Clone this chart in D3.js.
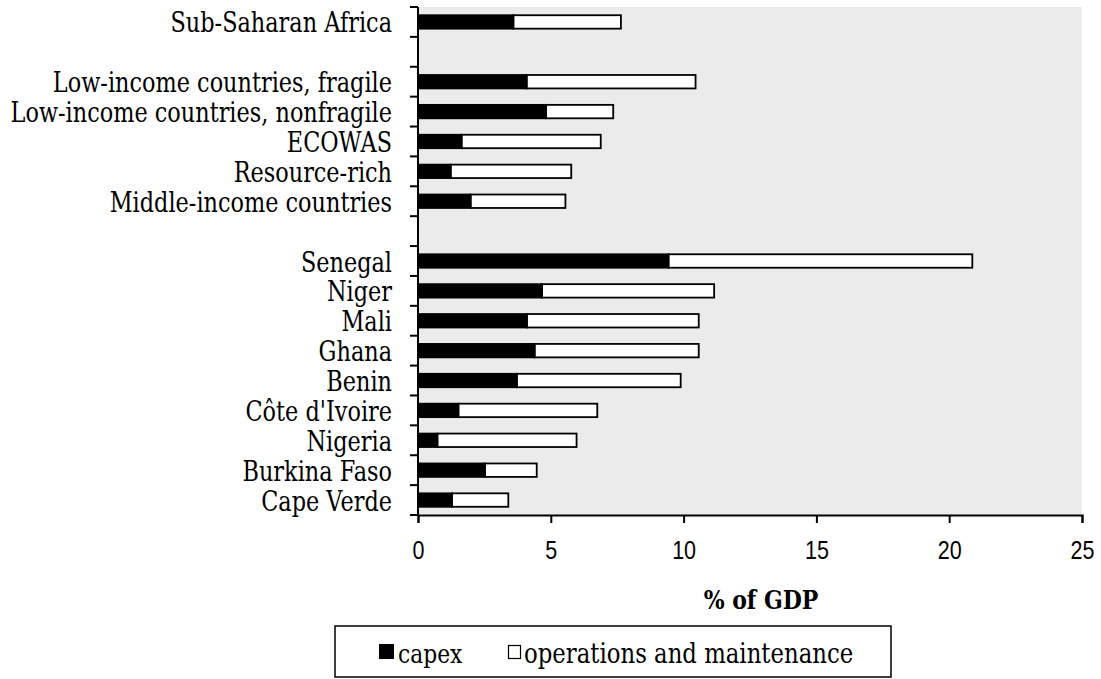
<!DOCTYPE html>
<html><head><meta charset="utf-8">
<script src="https://cdn.jsdelivr.net/npm/d3@7"></script>
<style>body{margin:0;background:#fff;} svg{display:block;font-family:"DejaVu Serif",serif;}</style>
</head><body><svg id="c" width="1101" height="679"></svg>
<script>
const categories = ["Sub-Saharan Africa","gap1","Low-income countries, fragile","Low-income countries, nonfragile","ECOWAS","Resource-rich","Middle-income countries","gap2","Senegal","Niger","Mali","Ghana","Benin","Côte d'Ivoire","Nigeria","Burkina Faso","Cape Verde"];
const capex = [3.59,null,4.09,4.82,1.64,1.23,1.98,null,9.43,4.67,4.10,4.39,3.72,1.52,0.73,2.52,1.28];
const total = [7.64,null,10.45,7.35,6.88,5.77,5.55,null,20.87,11.15,10.57,10.57,9.89,6.75,5.97,4.47,3.40];
const opsMaint = total.map((t,i)=> t==null?null:+(t-capex[i]).toFixed(2));
const xTicks = [0,5,10,15,20,25];
const seriesNames = ["capex","operations and maintenance"];

const svg = d3.select("#c");
const L=418,R=1082,T=7,B=515;
const SY = 1.22; // vertical stretch of the reference lettering
const x = d3.scaleLinear().domain([0,25]).range([L,R]);
const y = d3.scaleBand().domain(categories).range([T,B]).paddingInner(0.55).paddingOuter(0.275);

function label(parent, tx, ty, txt, size, anchor, weight){
  return parent.append("text").attr("transform",`translate(${tx},${ty}) scale(1,${SY})`)
    .attr("text-anchor",anchor||"start").attr("font-size",size).attr("font-weight",weight||"normal")
    .attr("fill","#000").text(txt);
}

svg.append("rect").attr("x",L).attr("y",T).attr("width",R-L).attr("height",B-T).attr("fill","#ebebeb");

const rows = categories.map((c,i)=>({c,cap:capex[i],om:opsMaint[i]})).filter(d=>d.cap!=null);
const g = svg.append("g");
g.selectAll("rect.om").data(rows).join("rect").attr("class","om")
  .attr("x",d=>x(d.cap)).attr("y",d=>y(d.c)).attr("width",d=>x(d.cap+d.om)-x(d.cap)).attr("height",y.bandwidth())
  .attr("fill","#fff").attr("stroke","#000").attr("stroke-width",1.8);
g.selectAll("rect.cap").data(rows).join("rect").attr("class","cap")
  .attr("x",x(0)).attr("y",d=>y(d.c)).attr("width",d=>x(d.cap)-x(0)).attr("height",y.bandwidth())
  .attr("fill","#000").attr("stroke","#000").attr("stroke-width",1.8);

// y axis: boundary ticks
const step = (B-T)/categories.length;
const ya = svg.append("g");
ya.append("line").attr("x1",L).attr("x2",L).attr("y1",T).attr("y2",B).attr("stroke","#000").attr("stroke-width",2);
d3.range(categories.length+1).forEach(i=>{
  ya.append("line").attr("x1",L-8).attr("x2",L).attr("y1",T+i*step).attr("y2",T+i*step).attr("stroke","#000").attr("stroke-width",2);
});
categories.filter(c=>!c.startsWith("gap")).forEach(c=>{
  label(ya, 392, y(c)+y.bandwidth()/2+10.5, c, 22.4, "end");
});

// x axis
const xa = svg.append("g").attr("transform",`translate(0,${B})`)
  .call(d3.axisBottom(x).tickValues(xTicks).tickSize(8).tickFormat(d3.format("d")));
xa.select(".domain").attr("stroke-width",2);
xa.selectAll(".tick line").attr("stroke-width",2);
xa.selectAll(".tick text").remove();
xa.selectAll(".tick").each(function(d){
  label(d3.select(this), 0, 559-B, d3.format("d")(d), 21.5, "middle");
});

label(svg, 761, 609, "% of GDP", 22, "middle", "bold");

// legend
const lg = svg.append("g");
lg.append("rect").attr("x",335).attr("y",626).attr("width",556).attr("height",51).attr("fill","#fff").attr("stroke","#000").attr("stroke-width",1.5);
lg.append("rect").attr("x",379).attr("y",644).attr("width",15).attr("height",15).attr("fill","#000");
label(lg, 398, 663, seriesNames[0], 21.8);
lg.append("rect").attr("x",508.5).attr("y",645.5).attr("width",12).attr("height",13).attr("fill","#fff").attr("stroke","#000").attr("stroke-width",1.2);
label(lg, 524, 663, seriesNames[1], 22.8);
</script></body></html>
